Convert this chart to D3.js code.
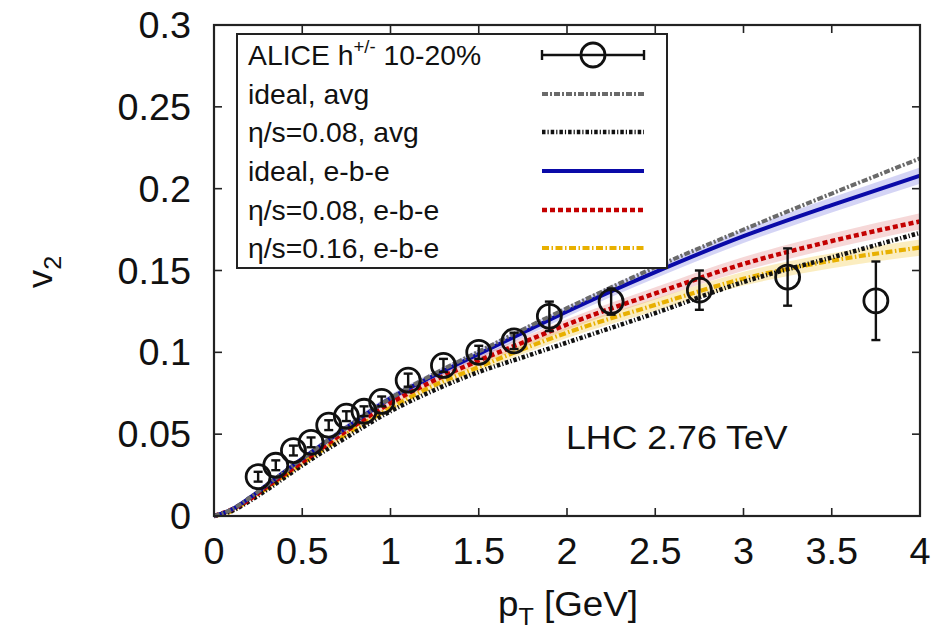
<!DOCTYPE html>
<html>
<head>
<meta charset="utf-8">
<script src="https://cdn.jsdelivr.net/npm/d3@7"></script>
<style>
  body { margin: 0; background: #fff; }
  text { font-family: "Liberation Sans", Arial, sans-serif; fill: #111; }
</style>
</head>
<body>
<svg id="chart" width="939" height="635"></svg>
<script>
// ALICE data points
const dataPt   = [0.25, 0.35, 0.45, 0.55, 0.65, 0.75, 0.85, 0.95, 1.1, 1.3, 1.5, 1.7, 1.9, 2.25, 2.75, 3.25, 3.75];
const dataV2   = [0.024, 0.031, 0.040, 0.045, 0.0555, 0.061, 0.064, 0.070, 0.083, 0.092, 0.100, 0.107, 0.122, 0.131, 0.138, 0.146, 0.1315];
const dataErr  = [0.003, 0.003, 0.003, 0.003, 0.003, 0.003, 0.003, 0.003, 0.004, 0.004, 0.004, 0.005, 0.009, 0.008, 0.012, 0.0175, 0.024];

// hydro curves
const curvePt   = [0, 0.1, 0.2, 0.3, 0.5, 0.75, 1.0, 1.25, 1.5, 1.75, 2.0, 2.5, 3.0, 3.5, 4.0];
const idealAvg  = [0, 0.004, 0.011, 0.019, 0.035, 0.054, 0.072, 0.087, 0.1005, 0.114, 0.127, 0.152, 0.175, 0.197, 0.2185];
const visc08Avg = [0, 0.003, 0.009, 0.016, 0.031, 0.048, 0.064, 0.077, 0.088, 0.097, 0.106, 0.124, 0.143, 0.158, 0.173];
const idealEbe  = [0, 0.004, 0.011, 0.019, 0.035, 0.054, 0.072, 0.086, 0.099, 0.112, 0.125, 0.149, 0.171, 0.190, 0.208];
const visc08Ebe = [0, 0.004, 0.010, 0.018, 0.033, 0.052, 0.069, 0.083, 0.095, 0.106, 0.117, 0.136, 0.154, 0.168, 0.180];
const visc16Ebe = [0, 0.003, 0.010, 0.017, 0.032, 0.050, 0.066, 0.080, 0.091, 0.102, 0.112, 0.129, 0.145, 0.156, 0.164];
// half width of the e-b-e error bands
const bandHalf  = [0, 0.0005, 0.001, 0.0012, 0.0015, 0.002, 0.0022, 0.0025, 0.0028, 0.003, 0.0032, 0.0037, 0.0042, 0.0046, 0.005];

const xTicks = [0, 0.5, 1, 1.5, 2, 2.5, 3, 3.5, 4];
const yTicks = [0, 0.05, 0.1, 0.15, 0.2, 0.25, 0.3];

const svg = d3.select("#chart");
const pLeft = 214, pRight = 920, pTop = 25, pBottom = 516;

const x = d3.scaleLinear().domain([0, 4]).range([pLeft, pRight]);
const y = d3.scaleLinear().domain([0, 0.3]).range([pBottom, pTop]);

// text slightly stretched sideways like the original figure
function label(parent, tx, ty, size, anchor, sx) {
  return parent.append("text")
    .attr("transform", `translate(${tx},${ty}) scale(${sx || 1.05},1)`)
    .attr("font-size", size)
    .attr("text-anchor", anchor || "start");
}

// bands
const bands = [
  { v: idealEbe,  fill: "rgba(60,60,210,0.22)" },
  { v: visc08Ebe, fill: "rgba(210,60,60,0.2)" },
  { v: visc16Ebe, fill: "rgba(240,190,30,0.28)" }
];
const area = d3.area().curve(d3.curveMonotoneX);
bands.forEach(b => {
  const pts = curvePt.map((p, i) => [x(p), y(b.v[i] - bandHalf[i]), y(b.v[i] + bandHalf[i])]);
  svg.append("path")
    .attr("d", area.x(d => d[0]).y0(d => d[1]).y1(d => d[2])(pts))
    .attr("fill", b.fill);
});

const series = [
  { v: idealAvg,  color: "#6a6a6a", w: 4,   dash: "6,2,2,2" },
  { v: visc08Avg, color: "#111",    w: 4.5, dash: "3.5,2,1.2,2" },
  { v: idealEbe,  color: "#0a0aa8", w: 4,   dash: null },
  { v: visc08Ebe, color: "#c40000", w: 4.5, dash: "5,3" },
  { v: visc16Ebe, color: "#e8b000", w: 4.2, dash: "7,2.5,1.5,2.5" }
];

const line = d3.line().curve(d3.curveMonotoneX);
const drawOrder = [4, 1, 3, 2, 0];
drawOrder.forEach(k => {
  const s = series[k];
  svg.append("path")
    .attr("d", line(curvePt.map((p, i) => [x(p), y(s.v[i])])))
    .attr("fill", "none")
    .attr("stroke", s.color)
    .attr("stroke-width", s.w)
    .attr("stroke-dasharray", s.dash);
});

// data points
const pts = svg.append("g").attr("stroke", "#111").attr("stroke-width", 2.4).attr("fill", "none");
dataPt.forEach((p, i) => {
  const cx = x(p), cy = y(dataV2[i]), lo = y(dataV2[i] - dataErr[i]), hi = y(dataV2[i] + dataErr[i]);
  pts.append("line").attr("x1", cx).attr("x2", cx).attr("y1", lo).attr("y2", hi);
  pts.append("line").attr("x1", cx - 4.5).attr("x2", cx + 4.5).attr("y1", lo).attr("y2", lo);
  pts.append("line").attr("x1", cx - 4.5).attr("x2", cx + 4.5).attr("y1", hi).attr("y2", hi);
  pts.append("circle").attr("cx", cx).attr("cy", cy).attr("r", 12).attr("stroke-width", 2.8);
});

// frame and ticks
svg.append("rect").attr("x", pLeft).attr("y", pTop).attr("width", pRight - pLeft).attr("height", pBottom - pTop)
  .attr("fill", "none").attr("stroke", "#222").attr("stroke-width", 2.2);

const tl = 8;
const tk = svg.append("g").attr("stroke", "#222").attr("stroke-width", 1.6);
xTicks.forEach(t => {
  tk.append("line").attr("x1", x(t)).attr("x2", x(t)).attr("y1", pBottom).attr("y2", pBottom - tl);
  tk.append("line").attr("x1", x(t)).attr("x2", x(t)).attr("y1", pTop).attr("y2", pTop + tl);
});
yTicks.forEach(t => {
  tk.append("line").attr("x1", pLeft).attr("x2", pLeft + tl).attr("y1", y(t)).attr("y2", y(t));
  tk.append("line").attr("x1", pRight).attr("x2", pRight - tl).attr("y1", y(t)).attr("y2", y(t));
});

xTicks.forEach(t => label(svg, x(t), 564, 36, "middle").text(t));
yTicks.forEach(t => label(svg, 191, y(t) + 13, 36, "end").text(t));

// axis titles
const xt = label(svg, 568, 616, 35, "middle");
xt.append("tspan").text("p");
xt.append("tspan").attr("font-size", 24).attr("dy", 9).text("T");
xt.append("tspan").attr("dy", -9).text(" [GeV]");

const yt = svg.append("text").attr("transform", "translate(52,272) rotate(-90) scale(1.05,1)")
  .attr("text-anchor", "middle").attr("font-size", 35);
yt.append("tspan").text("v");
yt.append("tspan").attr("font-size", 24).attr("dy", 9).text("2");

label(svg, 566, 449, 34, "start", 1.05).text("LHC 2.76 TeV");

// legend
const lg = svg.append("g");
lg.append("rect").attr("x", 237).attr("y", 34).attr("width", 430).attr("height", 234)
  .attr("fill", "#fff").attr("stroke", "#222").attr("stroke-width", 2);

const rowY = [55, 94, 132, 171, 210, 248];
const labels = [
  ["ALICE h", "+/-", " 10-20%"],
  ["ideal, avg"],
  ["\u03b7/s=0.08, avg"],
  ["ideal, e-b-e"],
  ["\u03b7/s=0.08, e-b-e"],
  ["\u03b7/s=0.16, e-b-e"]
];
labels.forEach((l, i) => {
  const t = label(lg, 248, rowY[i] + 10, 27.5, "start", 1.03);
  t.append("tspan").text(l[0]);
  if (l.length > 1) {
    t.append("tspan").attr("font-size", 18).attr("dy", -12).text(l[1]);
    t.append("tspan").attr("dy", 12).text(l[2]);
  }
});
const sx1 = 542, sx2 = 644;
// data symbol
const ls = lg.append("g").attr("stroke", "#111").attr("stroke-width", 2.4).attr("fill", "none");
ls.append("line").attr("x1", sx1).attr("x2", sx2).attr("y1", rowY[0]).attr("y2", rowY[0]);
ls.append("line").attr("x1", sx1).attr("x2", sx1).attr("y1", rowY[0] - 5).attr("y2", rowY[0] + 5);
ls.append("line").attr("x1", sx2).attr("x2", sx2).attr("y1", rowY[0] - 5).attr("y2", rowY[0] + 5);
ls.append("circle").attr("cx", (sx1 + sx2) / 2).attr("cy", rowY[0]).attr("r", 12).attr("stroke-width", 2.8);
series.forEach((s, i) => {
  lg.append("line").attr("x1", sx1).attr("x2", sx2).attr("y1", rowY[i + 1]).attr("y2", rowY[i + 1])
    .attr("stroke", s.color).attr("stroke-width", s.w).attr("stroke-dasharray", s.dash);
});
</script>
</body>
</html>
